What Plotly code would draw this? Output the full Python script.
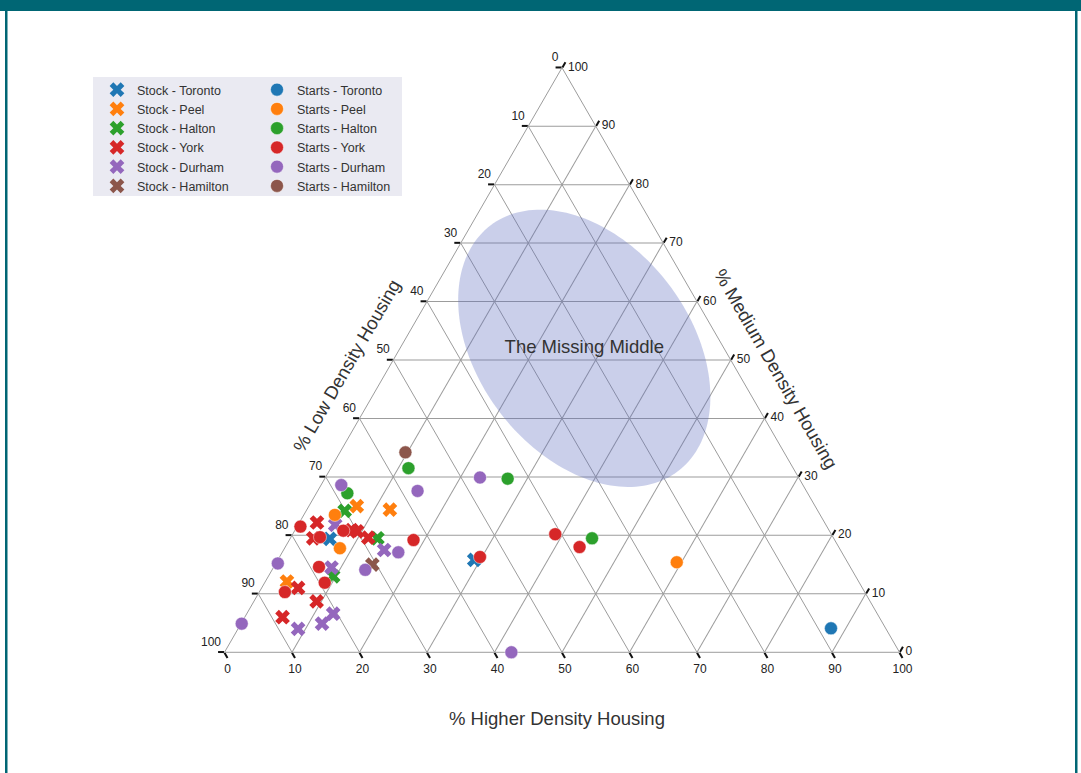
import math
import plotly.graph_objects as go

W, H = 1081, 773
FONT = "Liberation Sans, Arial, Helvetica, sans-serif"
TEAL = "#006674"
GRID = "#9c9c9c"

# Tick positions (percent) shared by the three ternary axes
TICKS = list(range(0, 101, 10))

# Housing mix per region, each point as (% low, % medium, % higher density)
STOCK_TORONTO = [(74.7, 19.4, 5.9), (55.1, 15.8, 29.1)]
STOCK_PEEL = [(67.9, 25.0, 7.1), (63.3, 24.4, 12.3), (84.7, 12.1, 3.2)]
STOCK_HALTON = [(70.1, 24.2, 5.7), (67.6, 19.5, 12.9), (77.4, 13.0, 9.6)]
STOCK_YORK = [(75.2, 22.2, 2.6), (77.1, 19.5, 3.4), (70.7, 20.9, 8.4),
              (70.0, 20.7, 9.3), (68.9, 19.6, 11.5), (83.6, 11.0, 5.4),
              (82.0, 8.7, 9.3), (88.4, 6.0, 5.6)]
STOCK_DURHAM = [(72.7, 21.8, 5.5), (67.6, 17.5, 14.9), (76.9, 14.5, 8.6),
                (80.6, 6.6, 12.8), (83.1, 4.9, 12.0), (87.1, 4.0, 8.9)]
STOCK_HAMILTON = [(70.6, 15.0, 14.4)]

STARTS_TORONTO = [(8.1, 4.1, 87.8)]
STARTS_PEEL = [(71.9, 23.5, 4.6), (74.0, 17.8, 8.2), (25.3, 15.4, 59.3)]
STARTS_HALTON = [(68.2, 27.2, 4.6), (57.0, 31.5, 11.5), (43.2, 29.7, 27.1),
                 (35.8, 19.5, 44.7)]
STARTS_YORK = [(78.0, 21.5, 0.5), (72.0, 20.8, 7.2), (76.0, 19.7, 4.3),
               (62.4, 19.2, 18.4), (78.7, 14.6, 6.7), (79.2, 11.9, 8.9),
               (85.9, 10.3, 3.8), (54.0, 16.3, 29.7), (40.9, 20.2, 38.9),
               (38.4, 18.0, 43.6)]
STARTS_DURHAM = [(68.4, 28.6, 3.0), (57.6, 27.6, 14.8), (47.2, 29.9, 22.9),
                 (65.7, 17.1, 17.2), (72.1, 14.1, 13.8), (84.5, 15.2, 0.3),
                 (95.0, 4.9, 0.1), (57.5, 0.0, 42.5)]
STARTS_HAMILTON = [(56.1, 34.2, 9.7)]

REGIONS = ["Toronto", "Peel", "Halton", "York", "Durham", "Hamilton"]
COLORS = ["#1f77b4", "#ff7f0e", "#2ca02c", "#d62728", "#9467bd", "#8c564b"]
STOCK = [STOCK_TORONTO, STOCK_PEEL, STOCK_HALTON, STOCK_YORK, STOCK_DURHAM, STOCK_HAMILTON]
STARTS = [STARTS_TORONTO, STARTS_PEEL, STARTS_HALTON, STARTS_YORK, STARTS_DURHAM, STARTS_HAMILTON]

# "Missing middle" region: centre (low, medium, high), semi-axes in % of a side, tilt in degrees
MIDDLE_CENTER = (20.7, 52.0, 27.3)
MIDDLE_AXES = (22.9, 15.7)
MIDDLE_TILT = -52.6

# Triangle placement on the page (pixels)
TRI_LEFT, TRI_RIGHT, TRI_TOP, TRI_BOTTOM = 224.5, 899.5, 67.5, 652.5


def ellipse_outline(center, axes, tilt, n=180):
    s3 = math.sqrt(3) / 2
    low, med, high = center
    cx, cy = high + med / 2, med * s3
    ra, rb = axes
    phi = math.radians(tilt)
    lows, meds, highs = [], [], []
    for i in range(n + 1):
        t = 2 * math.pi * i / n
        x = cx + ra * math.cos(t) * math.cos(phi) - rb * math.sin(t) * math.sin(phi)
        y = cy + ra * math.cos(t) * math.sin(phi) + rb * math.sin(t) * math.cos(phi)
        m = y / s3
        h = x - m / 2
        lows.append(100 - m - h)
        meds.append(m)
        highs.append(h)
    return lows, meds, highs


fig = go.Figure()

el_low, el_med, el_high = ellipse_outline(MIDDLE_CENTER, MIDDLE_AXES, MIDDLE_TILT)
fig.add_trace(go.Scatterternary(
    a=el_med, b=el_low, c=el_high, mode="lines", fill="toself",
    fillcolor="rgba(95,110,190,0.33)", line=dict(width=0),
    showlegend=False, hoverinfo="skip"))

fig.add_trace(go.Scatterternary(
    a=[MIDDLE_CENTER[1]], b=[MIDDLE_CENTER[0]], c=[MIDDLE_CENTER[2]],
    mode="text", text=["The Missing Middle"],
    textfont=dict(family=FONT, size=18.5, color="#333333"),
    showlegend=False, hoverinfo="skip"))

# Tick labels along the left edge (% low) and the right edge (% medium)
fig.add_trace(go.Scatterternary(
    a=TICKS, b=[100 - v for v in TICKS], c=[0] * len(TICKS),
    mode="markers+text", text=[str(100 - v) for v in TICKS],
    textposition="top left", marker=dict(size=4, opacity=0),
    textfont=dict(family=FONT, size=12, color="#222222"),
    cliponaxis=False, showlegend=False, hoverinfo="skip"))
fig.add_trace(go.Scatterternary(
    a=TICKS, b=[0] * len(TICKS), c=[100 - v for v in TICKS],
    mode="markers+text", text=[str(v) for v in TICKS],
    textposition="middle right", marker=dict(size=8, opacity=0),
    textfont=dict(family=FONT, size=12, color="#222222"),
    cliponaxis=False, showlegend=False, hoverinfo="skip"))

for name, pts, color in zip(REGIONS, STOCK, COLORS):
    fig.add_trace(go.Scatterternary(
        a=[p[1] for p in pts], b=[p[0] for p in pts], c=[p[2] for p in pts],
        mode="markers", name=f"Stock - {name}", legend="legend",
        cliponaxis=False,
        marker=dict(symbol="x", size=13, color=color, line=dict(width=0))))

for name, pts, color in zip(REGIONS, STARTS, COLORS):
    fig.add_trace(go.Scatterternary(
        a=[p[1] for p in pts], b=[p[0] for p in pts], c=[p[2] for p in pts],
        mode="markers", name=f"Starts - {name}", legend="legend2",
        cliponaxis=False,
        marker=dict(symbol="circle", size=13, color=color,
                    line=dict(width=0.6, color="rgba(255,255,255,0.8)"))))


def axis_style(show_labels):
    return dict(
        min=0, tickmode="array", tickvals=TICKS,
        ticktext=[str(100 - v) for v in TICKS], showticklabels=show_labels,
        ticks="outside", ticklen=6, tickwidth=2, tickcolor="#111111",
        showgrid=True, gridcolor=GRID, gridwidth=1,
        showline=True, linecolor=GRID, linewidth=1,
        tickfont=dict(family=FONT, size=12, color="#222222"),
        title=dict(text=""), layer="below traces")


legend_common = dict(
    xanchor="left", yanchor="top", bgcolor="rgba(0,0,0,0)",
    font=dict(family=FONT, size=12.5, color="#333333"),
    tracegroupgap=0, orientation="v")

title_font = dict(family=FONT, size=18.5, color="#333333")

fig.update_layout(
    width=W, height=H,
    margin=dict(l=0, r=0, t=0, b=0),
    paper_bgcolor="white",
    font=dict(family=FONT),
    ternary=dict(
        sum=100, bgcolor="white",
        domain=dict(x=[TRI_LEFT / W, TRI_RIGHT / W],
                    y=[1 - TRI_BOTTOM / H, 1 - TRI_TOP / H]),
        aaxis=axis_style(False), baxis=axis_style(True), caxis=axis_style(False)),
    legend=dict(x=97 / W, y=1 - 75 / H, **legend_common),
    legend2=dict(x=257 / W, y=1 - 75 / H, **legend_common),
    shapes=[
        dict(type="rect", xref="paper", yref="paper", layer="below",
             x0=93 / W, x1=402 / W, y0=1 - 196 / H, y1=1 - 77 / H,
             fillcolor="#eaeaf2", line=dict(width=0)),
        dict(type="rect", xref="paper", yref="paper",
             x0=0, x1=1, y0=1 - 11 / H, y1=1.01,
             fillcolor=TEAL, line=dict(width=0)),
        dict(type="rect", xref="paper", yref="paper",
             x0=5 / W, x1=7.5 / W, y0=-0.01, y1=1,
             fillcolor=TEAL, line=dict(width=0)),
        dict(type="rect", xref="paper", yref="paper",
             x0=1075 / W, x1=1077.5 / W, y0=-0.01, y1=1,
             fillcolor=TEAL, line=dict(width=0)),
    ],
    annotations=[
        dict(text="% Higher Density Housing", xref="paper", yref="paper",
             x=557 / W, y=1 - 718 / H, showarrow=False,
             xanchor="center", yanchor="middle", font=title_font),
        dict(text="% Low Density Housing", xref="paper", yref="paper",
             x=346 / W, y=1 - 366 / H, showarrow=False, textangle=-60,
             xanchor="center", yanchor="middle", font=title_font),
        dict(text="% Medium Density Housing", xref="paper", yref="paper",
             x=776 / W, y=1 - 368 / H, showarrow=False, textangle=60,
             xanchor="center", yanchor="middle", font=title_font),
    ],
)

fig.write_html("out.html")
